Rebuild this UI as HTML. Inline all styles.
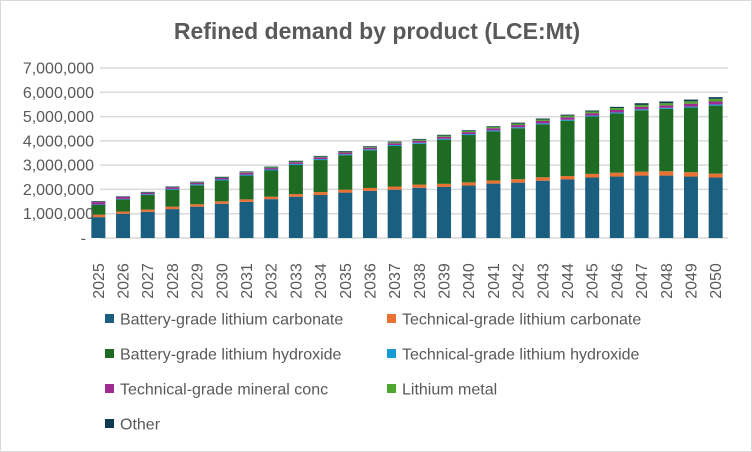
<!DOCTYPE html>
<html><head><meta charset="utf-8"><style>
body{margin:0;background:#fff;}
#wrap{position:relative;width:752px;height:452px;overflow:hidden;}
svg{font-family:"Liberation Sans",sans-serif;}
</style></head><body>
<div id="wrap">
<svg id="chart" width="752" height="452">
<rect x="0.5" y="0.5" width="751" height="451" fill="#fff" stroke="#d9d9d9"/>
<text x="377" y="39" text-anchor="middle" font-size="23" font-weight="bold" fill="#595959">Refined demand by product (LCE:Mt)</text>
<g id="grid"></g><g id="bars"></g><g id="axes"></g><g id="legend"></g>
</svg></div>
<script>
const years=["2025","2026","2027","2028","2029","2030","2031","2032","2033","2034","2035","2036","2037","2038","2039","2040","2041","2042","2043","2044","2045","2046","2047","2048","2049","2050"];
const seriesNames=["Battery-grade lithium carbonate","Technical-grade lithium carbonate","Battery-grade lithium hydroxide","Technical-grade lithium hydroxide","Technical-grade mineral conc","Lithium metal","Other"];
const seriesColors=["#1a5e80","#e97132","#1e6b24","#179ad6","#a02b93","#4ea72e","#0e3b50"];
const batCarb=[0.86,1.0,1.08,1.19,1.29,1.41,1.49,1.60,1.70,1.77,1.87,1.94,1.99,2.07,2.10,2.16,2.24,2.28,2.36,2.41,2.49,2.53,2.57,2.57,2.53,2.49];
const techCarb=[0.10,0.09,0.09,0.10,0.10,0.10,0.10,0.10,0.11,0.12,0.12,0.12,0.13,0.13,0.13,0.13,0.13,0.14,0.14,0.14,0.15,0.16,0.16,0.18,0.18,0.16];
const batHyd=[0.40,0.50,0.60,0.70,0.78,0.86,0.98,1.08,1.20,1.32,1.42,1.55,1.67,1.68,1.82,1.95,2.02,2.10,2.18,2.28,2.36,2.44,2.53,2.57,2.66,2.80];
const techHyd=[0.02,0.02,0.03,0.03,0.04,0.04,0.04,0.04,0.04,0.04,0.04,0.04,0.04,0.04,0.04,0.04,0.04,0.04,0.04,0.04,0.04,0.04,0.04,0.04,0.04,0.05];
const minConc=[0.10,0.08,0.06,0.06,0.06,0.06,0.08,0.06,0.07,0.07,0.07,0.07,0.07,0.08,0.08,0.08,0.09,0.09,0.10,0.10,0.10,0.10,0.10,0.10,0.12,0.12];
const liMetal=[0.01,0.01,0.01,0.01,0.02,0.02,0.02,0.03,0.03,0.03,0.03,0.03,0.04,0.05,0.05,0.05,0.05,0.06,0.06,0.07,0.07,0.08,0.08,0.09,0.10,0.11];
const other=[0.03,0.02,0.03,0.03,0.03,0.03,0.03,0.03,0.03,0.03,0.03,0.03,0.03,0.03,0.03,0.03,0.03,0.04,0.04,0.04,0.04,0.05,0.07,0.07,0.07,0.07];
const yTicks=["-","1,000,000","2,000,000","3,000,000","4,000,000","5,000,000","6,000,000","7,000,000"];
const series=[batCarb,techCarb,batHyd,techHyd,minConc,liMetal,other];
const NS="http://www.w3.org/2000/svg";
const x0=86,x1=728,yZero=238,yTop=68,yMax=7;
function yScale(v){return yZero-(v/yMax)*(yZero-yTop);}
const step=(x1-x0)/years.length;
function xCenter(i){return x0+step*(i+0.5);}
function mk(tag,attrs,parent){const e=document.createElementNS(NS,tag);for(const k in attrs)e.setAttribute(k,attrs[k]);parent.appendChild(e);return e;}
const grid=document.getElementById('grid'),bars=document.getElementById('bars'),axes=document.getElementById('axes'),legend=document.getElementById('legend');
yTicks.forEach((t,i)=>{
  const y=yScale(i);
  const l=mk('line',{x1:x0+14,x2:x1,y1:y,y2:y,stroke:'#d9d9d9','stroke-width':1.5},grid);
  
  
  const tx=mk('text',{x:i===0?86:94,y:y+5.5,'text-anchor':'end','font-size':16,fill:'#595959'},axes);
  tx.textContent=t;
  
  
});
years.forEach((yr,i)=>{
  let acc=0;const cx=xCenter(i),w=14;
  series.forEach((s,k)=>{
    const v=s[i];const yb=yScale(acc),yt=yScale(acc+v);acc+=v;
    const r=mk('rect',{x:cx-w/2,y:yt,width:w,height:Math.max(0,yb-yt),fill:seriesColors[k]},bars);
    
    
  });
  const tx=mk('text',{transform:`translate(${cx+5.5},${yZero+43}) rotate(-90)`,'text-anchor':'middle','font-size':16,fill:'#595959'},axes);
  tx.textContent=yr;
  
  
});
const lpos=[[105,319],[387,319],[105,354],[387,354],[105,389],[387,389],[105,424]];
seriesNames.forEach((n,k)=>{
  const [lx,ly]=lpos[k];
  const g=mk('g',{},legend);
  
  
  mk('rect',{x:lx,y:ly-5,width:9,height:9,fill:seriesColors[k]},g);
  const t=mk('text',{x:lx+15,y:ly+5.5,'font-size':16,fill:'#595959'},g);
  t.textContent=n;
});
</script>
</body></html>
